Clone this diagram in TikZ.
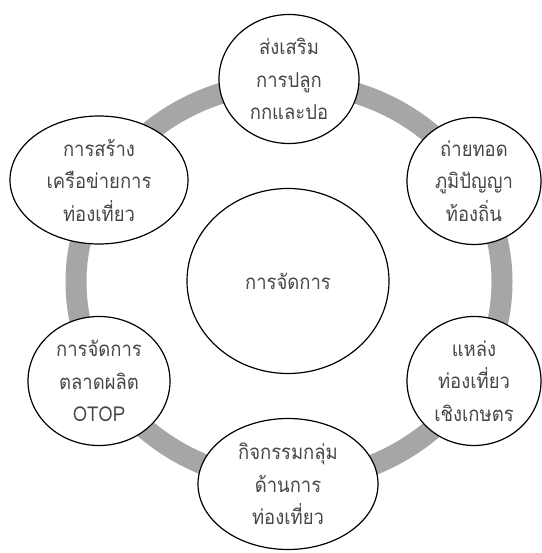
\documentclass[tikz,border=0pt]{standalone}
\usepackage{fontspec}
\usetikzlibrary{shapes.geometric}
\newfontfamily\thaifont[Script=Thai, FakeStretch=0.9]{Loma}
\definecolor{ringgray}{HTML}{A6A6A6}
\definecolor{txtgray}{HTML}{474747}
\tikzset{
  bubble/.style={ellipse, draw=black, line width=1.2pt, fill=white, inner sep=0pt,
    align=center, font=\thaifont\fontsize{20.5pt}{32.5pt}\selectfont, text=txtgray},
}
\begin{document}
\begin{tikzpicture}[x=1pt,y=-1pt]
\useasboundingbox (0,0) rectangle (541,553);
\draw[ringgray, line width=21pt] (289,282) ellipse [x radius=213, y radius=199];
\node[bubble, minimum width=202pt, minimum height=185pt] (center) at (288,281) {การจัดการ};
\node[bubble, minimum width=140pt, minimum height=129pt] (top) at (289,79) {ส่งเสริม\\การปลูก\\กกและปอ};
\node[bubble, minimum width=134pt, minimum height=127pt] (rt) at (474,181) {ถ่ายทอด\\ภูมิปัญญา\\ท้องถิ่น};
\node[bubble, minimum width=134pt, minimum height=129pt] (rb) at (474,381) {แหล่ง\\ท่องเที่ยว\\เชิงเกษตร};
\node[bubble, minimum width=180pt, minimum height=131pt] (bottom) at (288,484) {กิจกรรมกลุ่ม\\ด้านการ\\ท่องเที่ยว};
\node[bubble, minimum width=142pt, minimum height=129pt] (lb) at (99,381) {การจัดการ\\ตลาดผลิต\\OTOP};
\node[bubble, minimum width=178pt, minimum height=128pt] (lt) at (99,180) {การสร้าง\\เครือข่ายการ\\ท่องเที่ยว};
\end{tikzpicture}
\end{document}
